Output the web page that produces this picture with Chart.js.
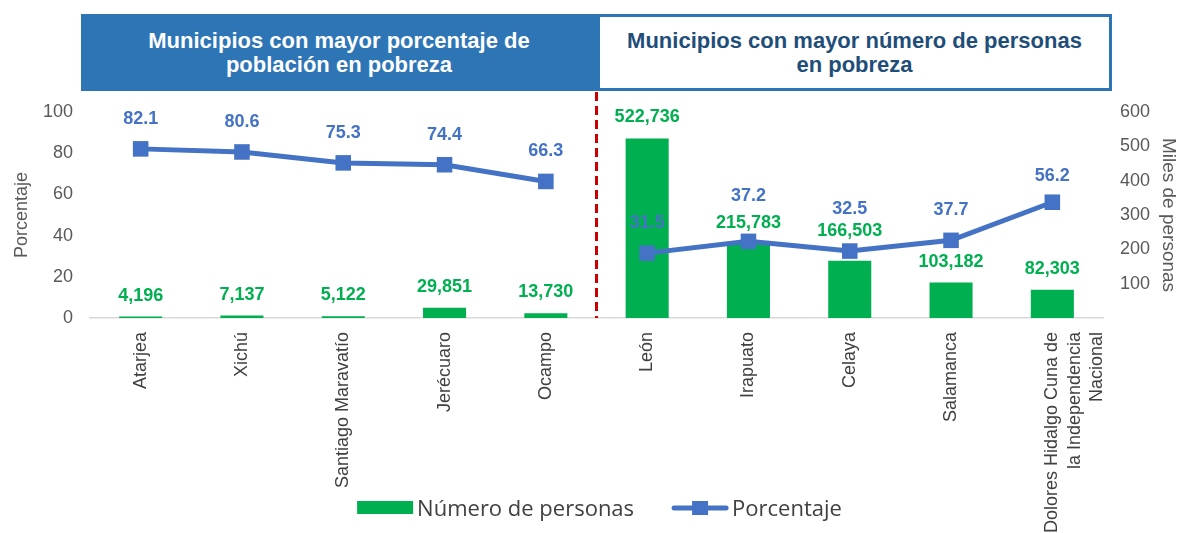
<!DOCTYPE html>
<html><head><meta charset="utf-8">
<script src="https://cdn.jsdelivr.net/npm/chart.js@4.4.1/dist/chart.umd.min.js"></script>
<style>
html,body{margin:0;padding:0;background:#fff;}
#wrap{position:relative;width:1181px;height:533px;overflow:hidden;background:#fff;}
#c{position:absolute;left:0;top:0;}
.hdr{position:absolute;top:14px;height:77px;box-sizing:border-box;display:flex;align-items:center;justify-content:center;text-align:center;font:bold 22px/24px "Liberation Sans",Arial,sans-serif;}
#h1{left:81px;width:516px;background:#2E75B6;color:#fff;}
#h2{left:597px;width:515px;border:3px solid #2E75B6;color:#1F4E79;background:#fff;}
</style></head>
<body>
<div id="wrap">
<canvas id="c" width="1181" height="533" style="width:1181px;height:533px"></canvas>
<div class="hdr" id="h1"></div>
<div class="hdr" id="h2"></div>
</div>
<script>
// ---- data ----
const categories = ['Atarjea', 'Xichú', 'Santiago Maravatío', 'Jerécuaro', 'Ocampo',
  'León', 'Irapuato', 'Celaya', 'Salamanca', ['Dolores Hidalgo Cuna de', 'la Independencia', 'Nacional']];
const personas = [4196, 7137, 5122, 29851, 13730, 522736, 215783, 166503, 103182, 82303];
const porcentaje = [82.1, 80.6, 75.3, 74.4, 66.3, 31.5, 37.2, 32.5, 37.7, 56.2];
const firstGroupSize = 5;
const leftTicks = [0, 20, 40, 60, 80, 100];
const rightTicks = [100, 200, 300, 400, 500, 600];
const headerLeft = ['Municipios con mayor porcentaje de', 'población en pobreza'];
const headerRight = ['Municipios con mayor número de personas', 'en pobreza'];
const seriesNames = ['Número de personas', 'Porcentaje'];
const axisTitles = ['Porcentaje', 'Miles de personas'];

// ---- styles ----
const barColor = '#00B050';
const lineColor = '#4472C4';
const FONT = '"Liberation Sans", Arial, sans-serif';

document.getElementById('h1').innerHTML = headerLeft.join('<br>');
document.getElementById('h2').innerHTML = headerRight.join('<br>');

const personasMiles = personas.map(v => v / 1000);
const fmt = v => String(v).replace(/\B(?=(\d{3})+(?!\d))/g, ',');

const valueLabels = {
  id: 'valueLabels',
  afterDatasetsDraw(chart, args, opts) {
    const ctx = chart.ctx;
    ctx.save();
    ctx.textAlign = 'center';
    ctx.textBaseline = 'middle';
    ctx.font = 'bold 18px ' + FONT;
    const bm = chart.getDatasetMeta(0);
    bm.data.forEach((el, i) => {
      const off = (opts.barOffsets[i] !== undefined) ? opts.barOffsets[i] : opts.barOffset;
      ctx.fillStyle = barColor;
      ctx.fillText(fmt(personas[i]), el.x, el.y + off);
    });
    const lm = chart.getDatasetMeta(1);
    lm.data.forEach((el, i) => {
      const off = (opts.lineOffsets[i] !== undefined) ? opts.lineOffsets[i] : opts.lineOffset;
      ctx.fillStyle = lineColor;
      ctx.fillText(porcentaje[i].toFixed(1), el.x, el.y + off);
    });
    ctx.restore();
  }
};

const separator = {
  id: 'separator',
  beforeDatasetsDraw(chart, args, opts) {
    const xs = chart.scales.x;
    const x = (xs.getPixelForTick(firstGroupSize - 1) + xs.getPixelForTick(firstGroupSize)) / 2;
    const ctx = chart.ctx;
    ctx.save();
    ctx.strokeStyle = opts.color;
    ctx.lineWidth = opts.width;
    ctx.setLineDash(opts.dash);
    ctx.beginPath();
    ctx.moveTo(x, opts.top);
    ctx.lineTo(x, chart.chartArea.bottom);
    ctx.stroke();
    ctx.restore();
  }
};

const customLegend = {
  id: 'customLegend',
  afterDraw(chart, args, opts) {
    const ctx = chart.ctx;
    ctx.save();
    ctx.font = opts.font;
    ctx.textBaseline = 'alphabetic';
    const items = chart.data.datasets.map(d => ({ text: d.label, type: d.type }));
    const widths = items.map(it => opts.symbolWidth + opts.symbolGap + ctx.measureText(it.text).width);
    const total = widths.reduce((a, b) => a + b, 0) + opts.itemGap * (items.length - 1);
    const ca = chart.chartArea;
    let x = (ca.left + ca.right) / 2 - total / 2 + opts.shift;
    const y = opts.y;
    items.forEach((it, i) => {
      if (it.type === 'bar') {
        ctx.fillStyle = barColor;
        ctx.fillRect(x, y - 7, opts.symbolWidth, 13);
      } else {
        ctx.strokeStyle = lineColor;
        ctx.lineWidth = 5;
        ctx.lineCap = 'round';
        ctx.beginPath();
        ctx.moveTo(x + 2, y);
        ctx.lineTo(x + opts.symbolWidth - 2, y);
        ctx.stroke();
        ctx.fillStyle = lineColor;
        ctx.fillRect(x + opts.symbolWidth / 2 - 8, y - 7, 16, 14);
      }
      ctx.fillStyle = '#404040';
      ctx.fillText(it.text, x + opts.symbolWidth + opts.symbolGap, y + 8);
      x += widths[i] + opts.itemGap;
    });
    ctx.restore();
  }
};

Chart.defaults.font.family = FONT;

new Chart(document.getElementById('c'), {
  data: {
    labels: categories,
    datasets: [
      {
        type: 'bar', label: seriesNames[0], data: personasMiles,
        backgroundColor: barColor, yAxisID: 'y2', order: 2,
        barPercentage: 0.425, categoryPercentage: 1
      },
      {
        type: 'line', label: seriesNames[1], data: porcentaje, yAxisID: 'y', order: 1,
        borderColor: lineColor, backgroundColor: lineColor, borderWidth: 5,
        pointStyle: 'rect', pointRadius: 11, pointBorderWidth: 0,
        pointBackgroundColor: lineColor, tension: 0,
        segment: { borderColor: c => c.p0DataIndex === firstGroupSize - 1 ? 'rgba(0,0,0,0)' : lineColor }
      }
    ]
  },
  options: {
    responsive: false,
    animation: false,
    events: [],
    layout: { padding: { top: 112, left: 0, right: 0, bottom: 0 } },
    plugins: {
      legend: { display: false },
      tooltip: { enabled: false },
      valueLabels: {
        barOffset: -21, barOffsets: { 7: -30 },
        lineOffset: -30, lineOffsets: { 6: -45, 7: -42, 9: -26 }
      },
      separator: { color: '#CC0000', width: 3, dash: [9, 5], top: 92 },
      customLegend: { font: '22px "Open Sans", sans-serif', y: 508, symbolWidth: 56, symbolGap: 4, itemGap: 38, shift: 3 }
    },
    scales: {
      x: {
        type: 'category',
        offset: true,
        grid: { display: false, drawTicks: false },
        border: { display: true, color: '#D9D9D9', width: 1.5 },
        ticks: {
          autoSkip: false, minRotation: 90, maxRotation: 90, padding: 14,
          color: '#404040', font: { size: 18, lineHeight: 1.25 }
        },
        afterFit: s => { s.height = 215; }
      },
      y: {
        position: 'left', min: 0, max: 100,
        afterBuildTicks: s => { s.ticks = leftTicks.map(v => ({ value: v })); },
        grid: { display: false, drawTicks: false },
        border: { display: false },
        ticks: { padding: 17, color: '#595959', font: { size: 18 } },
        title: { display: true, text: axisTitles[0], color: '#595959', font: { size: 18 }, padding: { top: 11, bottom: 0 } },
        afterFit: s => { s.width = 90; }
      },
      y2: {
        position: 'right', min: 0, max: 600,
        afterBuildTicks: s => { s.ticks = rightTicks.map(v => ({ value: v })); },
        grid: { display: false, drawTicks: false },
        border: { display: false },
        ticks: { padding: 17, color: '#595959', font: { size: 18 } },
        title: { display: true, text: axisTitles[1], color: '#595959', font: { size: 19 }, padding: { top: 1, bottom: 0 } },
        afterFit: s => { s.width = 78; }
      }
    }
  },
  plugins: [valueLabels, separator, customLegend]
});
</script>
</body></html>
